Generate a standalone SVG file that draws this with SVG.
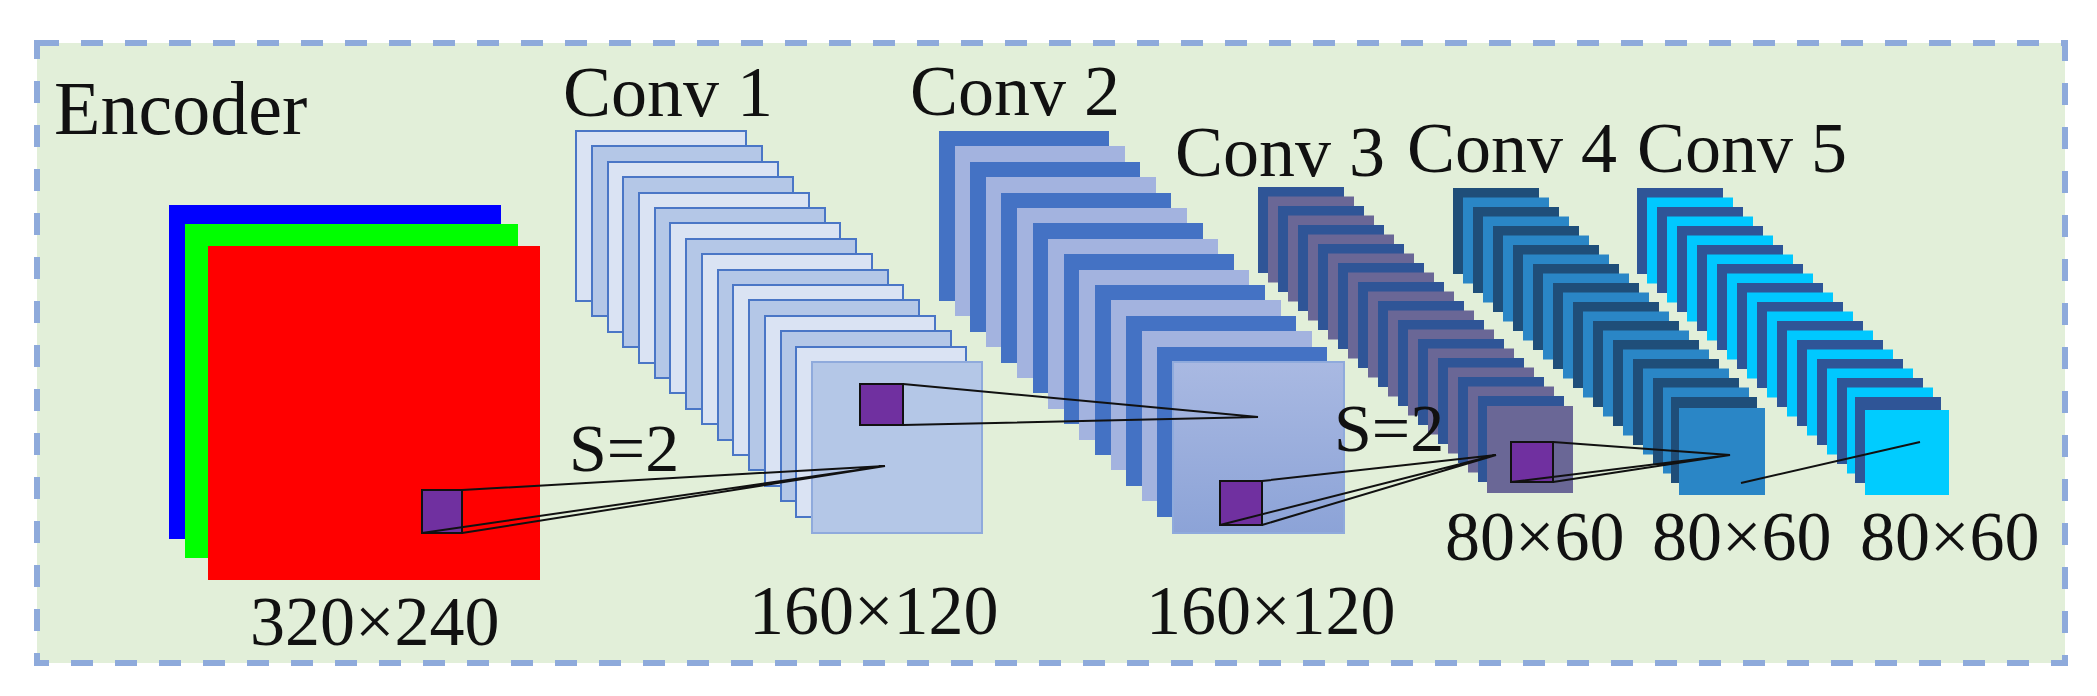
<svg xmlns="http://www.w3.org/2000/svg" width="2097" height="696" viewBox="0 0 2097 696">
<style>
text{font-family:"Liberation Serif","DejaVu Serif",serif;fill:#111;}
.t{font-size:72px}
.n{font-size:70px}
.l1a{fill:#dae3f3;stroke:#4a76c6;stroke-width:2}
.l1b{fill:#b4c7e7;stroke:#4a76c6;stroke-width:2}
.l2a{fill:#4472c4}
.l2b{fill:#a3b3df}
.l3a{fill:#2f5597}
.l3b{fill:#6a6796}
.l4a{fill:#1f4e79}
.l4b{fill:#2a86c6}
.l5a{fill:#2f5597}
.l5b{fill:#00c8ff}
.k{stroke:#111;stroke-width:2;fill:none}
.p{fill:#7030a0;stroke:#111;stroke-width:2}
</style>
<defs>
<linearGradient id="g2" x1="0" y1="0" x2="0" y2="1"><stop offset="0" stop-color="#a9b9e2"/><stop offset="1" stop-color="#8ca3d7"/></linearGradient>
</defs>
<rect x="37" y="43" width="2028" height="620" fill="#e2efd9" stroke="#8eaadb" stroke-width="6" stroke-dasharray="22 22"/>
<text x="54" y="134" font-size="76">Encoder</text>
<g id="input">
<rect x="169" y="205" width="332" height="334" fill="#0000ff"/>
<rect x="185" y="224" width="333" height="334" fill="#00ff00"/>
<rect x="208" y="246" width="332" height="334" fill="#ff0000"/>
<rect class="p" x="422" y="490" width="40" height="43"/>
<text class="n" x="250" y="645">320×240</text>
</g>
<g id="conv1">
<text class="t" x="563" y="116">Conv 1</text>
<rect class="l1a" x="576" y="131" width="170" height="170"/>
<rect class="l1b" x="592" y="146" width="170" height="170"/>
<rect class="l1a" x="608" y="162" width="170" height="170"/>
<rect class="l1b" x="623" y="177" width="170" height="170"/>
<rect class="l1a" x="639" y="193" width="170" height="170"/>
<rect class="l1b" x="655" y="208" width="170" height="170"/>
<rect class="l1a" x="670" y="223" width="170" height="170"/>
<rect class="l1b" x="686" y="239" width="170" height="170"/>
<rect class="l1a" x="702" y="254" width="170" height="170"/>
<rect class="l1b" x="718" y="270" width="170" height="170"/>
<rect class="l1a" x="733" y="285" width="170" height="170"/>
<rect class="l1b" x="749" y="300" width="170" height="170"/>
<rect class="l1a" x="765" y="316" width="170" height="170"/>
<rect class="l1b" x="781" y="331" width="170" height="170"/>
<rect class="l1a" x="796" y="347" width="170" height="170"/>
<rect x="812" y="362" width="170" height="171" fill="#b4c7e7" stroke="#8faadc" stroke-width="2"/>
<rect class="p" x="860" y="384" width="43" height="41"/>
<text class="n" x="749" y="634">160×120</text>
</g>
<g id="conv2">
<text class="t" x="910" y="115">Conv 2</text>
<rect class="l2a" x="939" y="131" width="170" height="170"/>
<rect class="l2b" x="955" y="146" width="170" height="170"/>
<rect class="l2a" x="970" y="162" width="170" height="170"/>
<rect class="l2b" x="986" y="177" width="170" height="170"/>
<rect class="l2a" x="1001" y="193" width="170" height="170"/>
<rect class="l2b" x="1017" y="208" width="170" height="170"/>
<rect class="l2a" x="1033" y="223" width="170" height="170"/>
<rect class="l2b" x="1048" y="239" width="170" height="170"/>
<rect class="l2a" x="1064" y="254" width="170" height="170"/>
<rect class="l2b" x="1079" y="270" width="170" height="170"/>
<rect class="l2a" x="1095" y="285" width="170" height="170"/>
<rect class="l2b" x="1111" y="300" width="170" height="170"/>
<rect class="l2a" x="1126" y="316" width="170" height="170"/>
<rect class="l2b" x="1142" y="331" width="170" height="170"/>
<rect class="l2a" x="1157" y="347" width="170" height="170"/>
<rect x="1173" y="362" width="171" height="171" fill="url(#g2)" stroke="#8faadc" stroke-width="2"/>
<rect class="p" x="1220" y="481" width="42" height="44"/>
<text class="n" x="1146" y="634">160×120</text>
</g>
<g id="conv3">
<text class="t" x="1175" y="176">Conv 3</text>
<g transform="translate(1258 187)">
<rect class="l3a" x="0" y="0" width="86" height="86"/><rect class="l3b" x="10" y="9.5" width="86" height="86"/>
<rect class="l3a" x="20" y="19" width="86" height="86"/><rect class="l3b" x="30" y="28.5" width="86" height="86"/>
<rect class="l3a" x="40" y="38" width="86" height="86"/><rect class="l3b" x="50" y="47.5" width="86" height="86"/>
<rect class="l3a" x="60" y="57" width="86" height="86"/><rect class="l3b" x="70" y="66.5" width="86" height="86"/>
<rect class="l3a" x="80" y="76" width="86" height="86"/><rect class="l3b" x="90" y="85.5" width="86" height="86"/>
<rect class="l3a" x="100" y="95" width="86" height="86"/><rect class="l3b" x="110" y="104.5" width="86" height="86"/>
<rect class="l3a" x="120" y="114" width="86" height="86"/><rect class="l3b" x="130" y="123.5" width="86" height="86"/>
<rect class="l3a" x="140" y="133" width="86" height="86"/><rect class="l3b" x="150" y="142.5" width="86" height="86"/>
<rect class="l3a" x="160" y="152" width="86" height="86"/><rect class="l3b" x="170" y="161.5" width="86" height="86"/>
<rect class="l3a" x="180" y="171" width="86" height="86"/><rect class="l3b" x="190" y="180.5" width="86" height="86"/>
<rect class="l3a" x="200" y="190" width="86" height="86"/><rect class="l3b" x="210" y="199.5" width="86" height="86"/>
<rect class="l3a" x="220" y="209" width="86" height="86"/><rect class="l3b" x="229" y="219" width="86" height="87"/>
</g>
<rect class="p" x="1511" y="442" width="42" height="40"/>
<text class="n" x="1445" y="560">80×60</text>
</g>
<g id="conv4">
<text class="t" x="1407" y="172">Conv 4</text>
<g transform="translate(1453 188)">
<rect class="l4a" x="0" y="0" width="86" height="86"/><rect class="l4b" x="10" y="9.5" width="86" height="86"/>
<rect class="l4a" x="20" y="19" width="86" height="86"/><rect class="l4b" x="30" y="28.5" width="86" height="86"/>
<rect class="l4a" x="40" y="38" width="86" height="86"/><rect class="l4b" x="50" y="47.5" width="86" height="86"/>
<rect class="l4a" x="60" y="57" width="86" height="86"/><rect class="l4b" x="70" y="66.5" width="86" height="86"/>
<rect class="l4a" x="80" y="76" width="86" height="86"/><rect class="l4b" x="90" y="85.5" width="86" height="86"/>
<rect class="l4a" x="100" y="95" width="86" height="86"/><rect class="l4b" x="110" y="104.5" width="86" height="86"/>
<rect class="l4a" x="120" y="114" width="86" height="86"/><rect class="l4b" x="130" y="123.5" width="86" height="86"/>
<rect class="l4a" x="140" y="133" width="86" height="86"/><rect class="l4b" x="150" y="142.5" width="86" height="86"/>
<rect class="l4a" x="160" y="152" width="86" height="86"/><rect class="l4b" x="170" y="161.5" width="86" height="86"/>
<rect class="l4a" x="180" y="171" width="86" height="86"/><rect class="l4b" x="190" y="180.5" width="86" height="86"/>
<rect class="l4a" x="200" y="190" width="86" height="86"/><rect class="l4b" x="210" y="199.5" width="86" height="86"/>
<rect class="l4a" x="218" y="209" width="86" height="86"/><rect class="l4b" x="226" y="220" width="86" height="87"/>
</g>
<text class="n" x="1652" y="560">80×60</text>
</g>
<g id="conv5">
<text class="t" x="1637" y="172">Conv 5</text>
<g transform="translate(1637 188)">
<rect class="l5a" x="0" y="0" width="86" height="86"/><rect class="l5b" x="10" y="9.5" width="86" height="86"/>
<rect class="l5a" x="20" y="19" width="86" height="86"/><rect class="l5b" x="30" y="28.5" width="86" height="86"/>
<rect class="l5a" x="40" y="38" width="86" height="86"/><rect class="l5b" x="50" y="47.5" width="86" height="86"/>
<rect class="l5a" x="60" y="57" width="86" height="86"/><rect class="l5b" x="70" y="66.5" width="86" height="86"/>
<rect class="l5a" x="80" y="76" width="86" height="86"/><rect class="l5b" x="90" y="85.5" width="86" height="86"/>
<rect class="l5a" x="100" y="95" width="86" height="86"/><rect class="l5b" x="110" y="104.5" width="86" height="86"/>
<rect class="l5a" x="120" y="114" width="86" height="86"/><rect class="l5b" x="130" y="123.5" width="86" height="86"/>
<rect class="l5a" x="140" y="133" width="86" height="86"/><rect class="l5b" x="150" y="142.5" width="86" height="86"/>
<rect class="l5a" x="160" y="152" width="86" height="86"/><rect class="l5b" x="170" y="161.5" width="86" height="86"/>
<rect class="l5a" x="180" y="171" width="86" height="86"/><rect class="l5b" x="190" y="180.5" width="86" height="86"/>
<rect class="l5a" x="200" y="190" width="86" height="86"/><rect class="l5b" x="210" y="199.5" width="86" height="86"/>
<rect class="l5a" x="218" y="209" width="86" height="86"/><rect x="228" y="222" width="84" height="85" fill="#00ccff"/>
</g>
<text class="n" x="1860" y="560">80×60</text>
</g>
<g id="connectors">
<path class="k" d="M462 490 L885 466 L462 533 M422 533 L885 466"/>
<path class="k" d="M903 384 L1258 417 L903 425"/>
<path class="k" d="M1262 481 L1496 455 L1262 525 M1220 525 L1496 455"/>
<path class="k" d="M1553 442 L1730 455 L1553 482 M1511 482 L1730 455"/>
<path class="k" d="M1741 483 L1920 442"/>
</g>
<text x="569" y="471" font-size="68">S=2</text>
<text x="1334" y="451" font-size="68">S=2</text>
</svg>
